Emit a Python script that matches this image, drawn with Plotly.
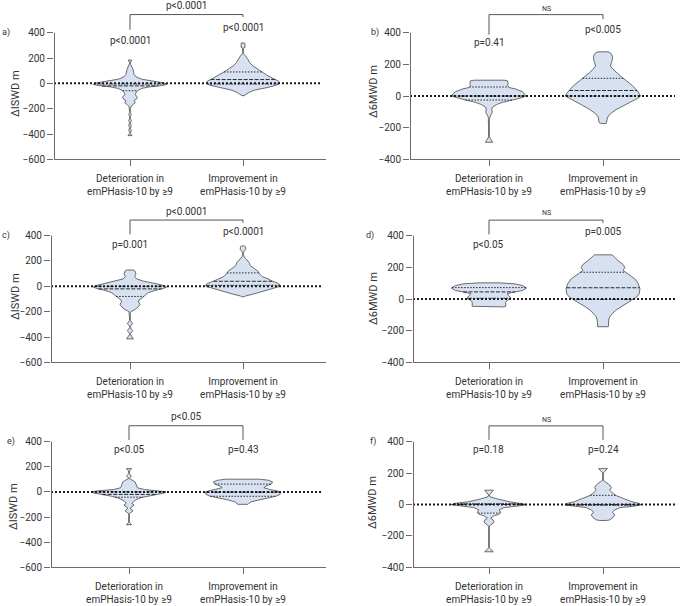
import numpy as np
import plotly.graph_objects as go

W, H = 680, 606

# ---------------- data ----------------
categories = ["Deterioration in<br>emPHasis-10 by ≥9", "Improvement in<br>emPHasis-10 by ≥9"]
panel_letters = ["a)", "b)", "c)", "d)", "e)", "f)"]
y_titles = ["ΔISWD m", "Δ6MWD m", "ΔISWD m", "Δ6MWD m", "ΔISWD m", "Δ6MWD m"]
ticks_iswd = [-600, -400, -200, 0, 200, 400]
ticks_6mwd = [-400, -200, 0, 200, 400]

# violin outlines: change values (m) and relative density (0-112 scale)
a_det_vals = [184, 171, 160, 150, 137, 111, 72, 51, 33, 15, 2, -9, -17, -27, -40, -58, -71, -89, -105, -123, -136,
              -152, -168, -183, -194, -230, -246, -262, -277, -293, -309, -319, -334, -350, -358, -371, -386, -394, -412]
a_det_dens = [5, 3, 1, 2, 5, 9, 12, 18, 35, 70, 105, 110, 95, 60, 35, 22, 18, 15, 22, 20, 12,
              16, 8, 3, 1, 1, 4, 1, 1, 4, 1, 1, 4, 1, 1, 4, 1, 1, 6]
a_imp_vals = [319, 311, 285, 277, 238, 215, 189, 163, 137, 111, 85, 59, 33, 15, 0, -14, -32, -53, -71, -89, -97]
a_imp_dens = [5, 6, 6, 1, 1, 8, 15, 20, 30, 45, 60, 75, 95, 108, 110, 100, 75, 35, 18, 8, 3]

b_det_vals = [100, 96, 79, 65, 54, 44, 27, 12, 2, -4, -12, -25, -40, -54, -71, -87, -102, -117, -133, -144, -254, -258, -292]
b_det_dens = [45, 55, 57, 55, 60, 80, 100, 108, 110, 105, 95, 70, 40, 22, 10, 8, 10, 6, 2, 1, 1, 1, 11]
b_imp_vals = [279, 273, 252, 231, 210, 190, 169, 148, 121, 96, 65, 33, 12, 0, -12, -33, -60, -87, -112, -133, -150, -165, -171, -175]
b_imp_dens = [15, 22, 28, 28, 25, 22, 30, 40, 55, 70, 88, 102, 110, 112, 105, 85, 60, 38, 22, 14, 12, 12, 10, 9]

c_det_vals = [129, 121, 98, 77, 59, 41, 20, 4, -6, -17, -32, -50, -71, -89, -105, -123, -141, -162, -183, -199, -209,
              -269, -293, -316, -327, -350, -373, -378, -415]
c_det_dens = [10, 15, 18, 14, 20, 40, 80, 105, 110, 100, 75, 55, 45, 38, 28, 25, 30, 25, 15, 3, 1,
              1, 8, 1, 1, 8, 1, 1, 10]
c_imp_vals = [319, 311, 290, 275, 259, 233, 215, 189, 163, 137, 119, 98, 77, 59, 41, 25, 9, -1, -17, -38, -58, -76, -82]
c_imp_dens = [5, 8, 8, 3, 1, 3, 10, 18, 22, 35, 45, 50, 58, 75, 88, 105, 112, 110, 90, 60, 35, 8, 4]

d_det_vals = [102, 96, 85, 69, 54, 44, 35, 23, 12, 2, -8, -19, -46, -50]
d_det_dens = [30, 75, 100, 112, 100, 75, 55, 57, 63, 65, 55, 50, 50, 45]
d_imp_vals = [279, 273, 242, 217, 200, 179, 158, 127, 96, 65, 33, 12, -8, -29, -50, -71, -92, -112, -133, -154, -175]
d_imp_dens = [25, 30, 45, 60, 65, 60, 75, 95, 105, 110, 108, 100, 85, 70, 52, 38, 28, 20, 17, 16, 16]

e_det_vals = [185, 167, 146, 128, 106, 93, 80, 54, 33, 19, 9, 1, -9, -20, -33, -46, -64, -78, -91, -104, -117, -130,
              -151, -172, -243, -261]
e_det_dens = [8, 1, 1, 7, 1, 10, 18, 22, 25, 45, 90, 110, 105, 80, 55, 35, 20, 12, 8, 15, 10, 3, 12, 1, 1, 8]
e_imp_vals = [101, 93, 80, 64, 48, 33, 19, 6, -4, -20, -33, -46, -64, -78, -91, -99]
e_imp_dens = [50, 75, 88, 85, 70, 62, 80, 105, 112, 110, 100, 80, 45, 25, 18, 15]

f_det_vals = [91, 60, 49, 35, 18, 7, -1, -9, -20, -35, -49, -62, -72, -87, -98, -113, -129, -138, -276, -301]
f_det_dens = [13, 1, 3, 25, 60, 100, 112, 90, 45, 30, 35, 30, 15, 5, 12, 15, 5, 1, 1, 13]
f_imp_vals = [228, 200, 154, 144, 123, 106, 91, 70, 56, 39, 18, 5, -3, -12, -20, -35, -49, -66, -83, -98, -102]
f_imp_dens = [13, 1, 1, 8, 20, 25, 20, 30, 40, 60, 85, 110, 112, 90, 50, 35, 28, 35, 30, 20, 10]

# quartiles [Q1, median, Q3] per panel, (deterioration, improvement)
quartiles = [
    ([-58, -20, -5], [-5, 30, 90]),
    ([-25, 0, 57], [0, 35, 112]),
    ([-80, -20, 0], [8, 40, 106]),
    ([5, 45, 72], [-2, 71, 169]),
    ([-42, -20, 0], [-35, -2, 62]),
    ([-55, 0, 5], [-5, 0, 58]),
]

# p-values: within-group (det, imp) and between-group
p_within = [("p<0.0001", "p<0.0001"), ("p=0.41", "p<0.005"), ("p=0.001", "p<0.0001"),
            ("p<0.05", "p=0.005"), ("p<0.05", "p=0.43"), ("p=0.18", "p=0.24")]
p_between = ["p<0.0001", "NS", "p<0.0001", "NS", "p<0.05", "NS"]

violins = [
    ((a_det_vals, a_det_dens), (a_imp_vals, a_imp_dens)),
    ((b_det_vals, b_det_dens), (b_imp_vals, b_imp_dens)),
    ((c_det_vals, c_det_dens), (c_imp_vals, c_imp_dens)),
    ((d_det_vals, d_det_dens), (d_imp_vals, d_imp_dens)),
    ((e_det_vals, e_det_dens), (e_imp_vals, e_imp_dens)),
    ((f_det_vals, f_det_dens), (f_imp_vals, f_imp_dens)),
]

# ---------------- layout geometry (pixels) ----------------
# x0, x1, first-category px, px per category, y bottom px, bottom value, px of 400, top px
geom = [
    (54, 326, 130, 113, 161, -600, 33, 0),
    (410, 680, 489, 114, 161, -400, 33, 0),
    (51, 326, 130, 113, 366, -600, 238, 205),
    (413, 680, 489, 114, 366, -400, 238, 205),
    (51, 326, 129, 114, 573, -600, 446, 412),
    (413, 680, 489, 114, 573, -400, 446, 412),
]
# annotation heights (data units): p-det, p-imp, bracket top, left leg, right leg, bracket label
ann_y = [
    (340, 439, 543, 423, 523, 611),
    (335, 423, 514, 388, 486, 548),
    (332, 431, 523, 410, 502, 593),
    (346, 425, 498, 408, 481, 544),
    (337, 337, 526, 413, 413, 599),
    (350, 350, 500, 411, 411, 537),
]
letter_pos = [(6, 33), (375, 33), (6, 238), (370, 238), (11, 446), (373, 446)]
title_pos = [(15, 95), (373, 93), (15, 300), (373, 302), (14, 512), (373, 508)]

FONT = "Roboto"
TXT = "#333333"
AX = "#6a6a6a"
FILL = "#d7e1f1"
OUT = "#4a4a4a"
MAXW = 0.33  # half width (category units) of density 112

fig = go.Figure()
shapes = []
annotations = []

for i in range(6):
    n = "" if i == 0 else str(i + 1)
    x0, x1, c1, sx, ybot, vbot, y400, ytop = geom[i]
    s = (ybot - y400) / (400 - vbot)
    xr = [(x0 - c1) / sx, (x1 - c1) / sx]
    yr = [vbot, vbot + (ybot - ytop) / s]
    ticks = ticks_iswd if vbot == -600 else ticks_6mwd

    fig.layout["xaxis" + n] = dict(
        domain=[x0 / W, x1 / W], range=xr, anchor="y" + n,
        showline=True, linecolor=AX, linewidth=1, showgrid=False, zeroline=False,
        ticks="outside", ticklen=6, tickcolor=AX, tickvals=[0, 1], ticktext=categories,
        ticklabelstandoff=4,
        tickfont=dict(family=FONT, size=10, color=TXT), fixedrange=True)
    fig.layout["yaxis" + n] = dict(
        domain=[1 - ybot / H, 1 - ytop / H], range=yr, anchor="x" + n,
        showline=False, showgrid=False, zeroline=False,
        ticks="outside", ticklen=6, tickcolor=AX, tickvals=ticks,
        tickfont=dict(family=FONT, size=10, color=TXT), fixedrange=True)

    # y axis line (only up to 400)
    shapes.append(dict(type="line", xref="x" + n, yref="y" + n,
                       x0=xr[0] + 0.5 / sx, x1=xr[0] + 0.5 / sx, y0=vbot, y1=400,
                       line=dict(color=AX, width=1)))

    # violins
    for k, (vals, dens) in enumerate(violins[i]):
        v = np.array(vals, dtype=float)
        w = np.array(dens, dtype=float) / 112 * MAXW
        xs = np.concatenate([k + w, (k - w)[::-1], [k + w[0]]])
        ys = np.concatenate([v, v[::-1], [v[0]]])
        fig.add_trace(go.Scatter(x=xs, y=ys, mode="lines", fill="toself", fillcolor=FILL,
                                 line=dict(color=OUT, width=0.8), hoverinfo="skip",
                                 xaxis="x" + n, yaxis="y" + n, showlegend=False))
        q = quartiles[i][k]
        for j, qv in enumerate(q):
            hw = np.interp(qv, v[::-1], w[::-1])
            fig.add_trace(go.Scatter(x=[k - hw, k + hw], y=[qv, qv], mode="lines",
                                     line=dict(color="#2a2a2a", width=1,
                                               dash="4px,1.5px" if j == 1 else "1.5px,1.5px"),
                                     hoverinfo="skip", xaxis="x" + n, yaxis="y" + n, showlegend=False))

    # zero reference line
    fig.add_trace(go.Scatter(x=[xr[0], xr[1] - 5 / sx], y=[0, 0], mode="lines",
                             line=dict(color="#1a1a1a", width=2, dash="2px,2px"),
                             hoverinfo="skip", xaxis="x" + n, yaxis="y" + n, showlegend=False))

    pd_, pi_, btop, bl, brr, blab = ann_y[i]
    # bracket
    shapes.append(dict(type="path", xref="x" + n, yref="y" + n,
                       path=f"M 0,{bl} L 0,{btop} L 1,{btop} L 1,{brr}",
                       line=dict(color="#555555", width=1)))
    annotations.append(dict(xref="x" + n, yref="y" + n, x=0.5, y=blab, text=p_between[i],
                            showarrow=False, xanchor="center", yanchor="middle",
                            font=dict(family=FONT, size=7 if p_between[i] == "NS" else 10, color=TXT)))
    annotations.append(dict(xref="x" + n, yref="y" + n, x=0, y=pd_, text=p_within[i][0],
                            showarrow=False, xanchor="center", yanchor="middle",
                            font=dict(family=FONT, size=10, color=TXT)))
    annotations.append(dict(xref="x" + n, yref="y" + n, x=1, y=pi_, text=p_within[i][1],
                            showarrow=False, xanchor="center", yanchor="middle",
                            font=dict(family=FONT, size=10, color=TXT)))
    # panel letter
    lx, ly = letter_pos[i]
    annotations.append(dict(xref="paper", yref="paper", x=lx / W, y=1 - ly / H, text=panel_letters[i],
                            showarrow=False, xanchor="center", yanchor="middle",
                            font=dict(family=FONT, size=9, color=TXT)))
    # y title
    tx, ty = title_pos[i]
    annotations.append(dict(xref="paper", yref="paper", x=tx / W, y=1 - ty / H, text=y_titles[i],
                            textangle=-90, showarrow=False, xanchor="center", yanchor="middle",
                            font=dict(family=FONT, size=11, color=TXT)))

fig.update_layout(width=W, height=H, margin=dict(l=0, r=0, t=0, b=0),
                  paper_bgcolor="white", plot_bgcolor="white",
                  shapes=shapes, annotations=annotations, showlegend=False)

fig.write_html("out.html", config={"displayModeBar": False},
               post_script="document.body.style.margin='0';document.body.style.overflow='hidden';")
